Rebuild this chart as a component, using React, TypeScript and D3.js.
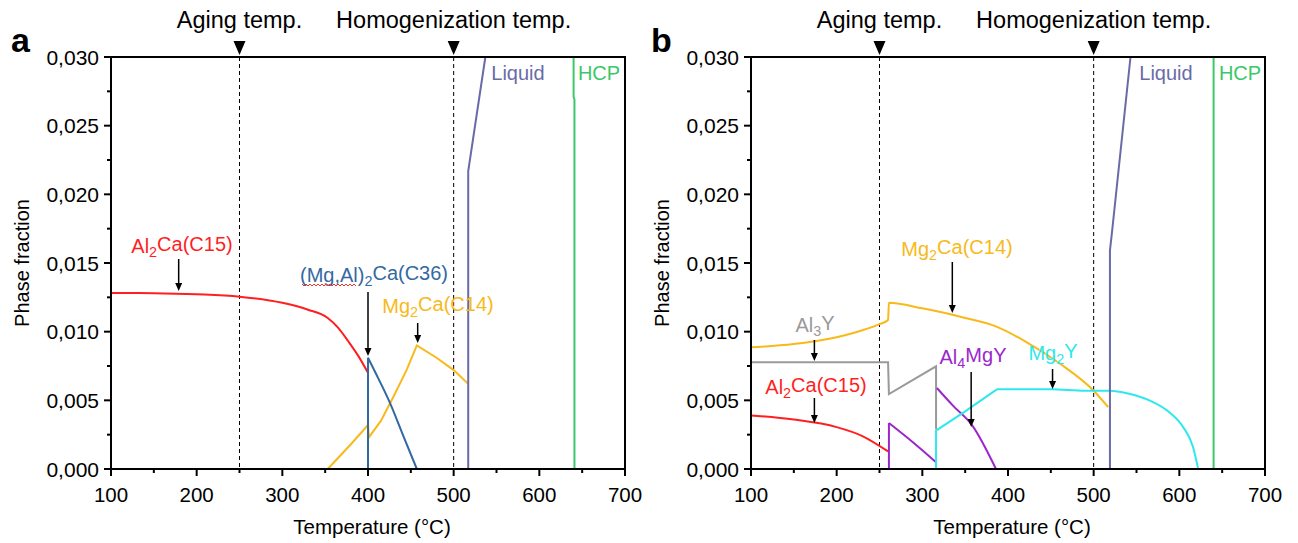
import React from "react";
import * as d3 from "d3";

type Pt = [number, number];

// x tick labels / y tick values
const X_TICKS = [100, 200, 300, 400, 500, 600, 700];
const Y_TICKS = [0, 0.005, 0.01, 0.015, 0.02, 0.025, 0.03];
const MARKS = [
  { t: 250, label: "Aging temp." },
  { t: 500, label: "Homogenization temp." },
];

// panel a
const aAl2Ca: Pt[] = [[100, 0.01282], [150, 0.0128], [200, 0.01272], [250, 0.01255], [300, 0.0121], [330, 0.0116], [353, 0.0110], [365, 0.0103], [377, 0.0093], [389, 0.0082], [400, 0.0070]];
const aC36: Pt[] = [[400, 0], [400, 0.0081], [412, 0.0066], [425, 0.0049], [440, 0.0026], [457, 0]];
const aMg2Ca: Pt[] = [[353, 0], [365, 0.0008], [380, 0.0018], [400, 0.0032], [401, 0.0023], [415, 0.0035], [430, 0.0053], [445, 0.0072], [457, 0.0090], [480, 0.0081], [500, 0.0072], [517, 0.0062]];
const aLiquid: Pt[] = [[517, 0], [517, 0.0217], [537, 0.030]];
const aHCP: Pt[] = [[640, 0.030], [640, 0.0271], [641, 0.0269], [641, 0]];

// panel b
const bMg2Ca: Pt[] = [[100, 0.00886], [150, 0.0091], [200, 0.0096], [230, 0.0101], [250, 0.01055], [260, 0.01085], [261, 0.0121], [300, 0.0117], [350, 0.0110], [385, 0.0104], [420, 0.0093], [460, 0.0077], [500, 0.0057], [517, 0.0045]];
const bAl3Y: Pt[] = [[100, 0.00777], [260, 0.00777], [261, 0.00546], [316, 0.00748], [316, 0.0029]];
const bAl2Ca: Pt[] = [[100, 0.0039], [150, 0.0036], [200, 0.00305], [230, 0.0024], [260, 0.00128]];
const bAl4MgY1: Pt[] = [[261, 0], [261, 0.00335], [290, 0.0019], [316, 0.0005]];
const bAl4MgY2: Pt[] = [[317, 0.0059], [336, 0.0046], [358, 0.0032], [386, 0]];
const bMg2Y: Pt[] = [[316, 0], [316, 0.0028], [350, 0.0042], [387, 0.0058], [450, 0.0058], [490, 0.0057], [519, 0.0057], [540, 0.0055], [565, 0.0050], [589, 0.0041], [604, 0.0031], [616, 0.0016], [622, 0]];
const bLiquid: Pt[] = [[519, 0], [519, 0.0159], [522, 0.0176], [543, 0.030]];
const bHCP: Pt[] = [[640, 0.030], [640, 0]];

const RED = "#ff1f1f";
const BLUE = "#3369a3";
const YELLOW = "#f8b91a";
const LIQ = "#6a6aa8";
const HCP = "#3cc768";
const GRAY = "#9a9a9a";
const PURPLE = "#9b27cc";
const CYAN = "#2ee8ee";

const FONT = "Liberation Sans, Arial, sans-serif";

function Sub({ a, s, b }) {
  return (
    <>
      {a}
      <tspan fontSize="0.72em" dy="0.3em">{s}</tspan>
      <tspan dy="-0.3em">{b}</tspan>
    </>
  );
}

function Panel({ left, letter, series, labels }) {
  const top = 57, bottom = 469, w = 514;
  const x = d3.scaleLinear().domain([100, 700]).range([left, left + w]);
  const y = d3.scaleLinear().domain([0, 0.03]).range([bottom, top]);
  const line = d3.line<Pt>().x(d => x(d[0])).y(d => y(d[1]));
  const smooth = d3.line<Pt>().x(d => x(d[0])).y(d => y(d[1])).curve(d3.curveMonotoneX);
  const fmt = (v: number) => d3.format(".3f")(v).replace(".", ",");
  const minorX = d3.range(150, 700, 100);
  const minorY = d3.range(0.0025, 0.03, 0.005);

  return (
    <g fontFamily={FONT}>
      <text x={left - 100} y={52} fontSize={34} fontWeight="bold">{letter}</text>
      {MARKS.map(m => (
        <g key={m.t}>
          <line x1={x(m.t)} x2={x(m.t)} y1={top} y2={bottom} stroke="#000" strokeWidth={1} strokeDasharray="4,3" />
          <path d={`M${x(m.t) - 6},${41} L${x(m.t) + 6},${41} L${x(m.t)},${55} Z`} fill="#000" />
          <text x={x(m.t)} y={28} fontSize={23.5} textAnchor="middle">{m.label}</text>
        </g>
      ))}
      {series.map((s, i) => {
        const k = s.smoothFrom;
        return (
          <g key={i}>
            {k === undefined ? (
              <path d={line(s.pts)} fill="none" stroke={s.color} strokeWidth={2} />
            ) : (
              <>
                {k > 0 && <path d={line(s.pts.slice(0, k + 1))} fill="none" stroke={s.color} strokeWidth={2} />}
                <path d={smooth(s.pts.slice(k))} fill="none" stroke={s.color} strokeWidth={2} />
              </>
            )}
          </g>
        );
      })}
      <rect x={left} y={top} width={w} height={bottom - top} fill="none" stroke="#000" strokeWidth={2} />
      {Y_TICKS.map(v => (
        <g key={v}>
          <line x1={left - 7} x2={left} y1={y(v)} y2={y(v)} stroke="#000" strokeWidth={2} />
          <text x={left - 12} y={y(v) + 7.5} fontSize={21} textAnchor="end">{fmt(v)}</text>
        </g>
      ))}
      {minorY.map(v => (
        <line key={v} x1={left - 4} x2={left} y1={y(v)} y2={y(v)} stroke="#000" strokeWidth={2} />
      ))}
      {X_TICKS.map(v => (
        <g key={v}>
          <line x1={x(v)} x2={x(v)} y1={bottom} y2={bottom + 7} stroke="#000" strokeWidth={2} />
          <text x={x(v)} y={bottom + 33} fontSize={20.5} textAnchor="middle">{v}</text>
        </g>
      ))}
      {minorX.map(v => (
        <line key={v} x1={x(v)} x2={x(v)} y1={bottom} y2={bottom + 4} stroke="#000" strokeWidth={2} />
      ))}
      <text x={left + w / 2 + 4} y={534} fontSize={20.5} textAnchor="middle">Temperature (°C)</text>
      <text transform={`translate(${left - 82},${(top + bottom) / 2}) rotate(-90)`} fontSize={20} textAnchor="middle">Phase fraction</text>
      {labels.map((l, i) => (
        <g key={i}>
          <text x={l.tx} y={l.ty} fontSize={20} textAnchor="middle" fill={l.color}>{l.text}</text>
          {l.arrow && (
            <g>
              <line x1={x(l.arrow[0])} x2={x(l.arrow[0])} y1={l.arrow[1]} y2={l.arrow[2] - 6} stroke="#000" strokeWidth={1.5} />
              <path d={`M${x(l.arrow[0]) - 3.5},${l.arrow[2] - 8} L${x(l.arrow[0]) + 3.5},${l.arrow[2] - 8} L${x(l.arrow[0])},${l.arrow[2]} Z`} fill="#000" />
            </g>
          )}
          {l.squiggle && (
            <path d={d3.range(0, 28).map(k => `${k ? "L" : "M"}${l.squiggle[0] + k * 2},${l.squiggle[1] + (k % 2) * 2}`).join(" ")} fill="none" stroke="#e33" strokeWidth={1} />
          )}
        </g>
      ))}
    </g>
  );
}

export default function App() {
  const seriesA = [
    { pts: aAl2Ca, color: RED, smoothFrom: 0 },
    { pts: aMg2Ca, color: YELLOW },
    { pts: aC36, color: BLUE, smoothFrom: 1 },
    { pts: aLiquid, color: LIQ },
    { pts: aHCP, color: HCP },
  ];
  const labelsA = [
    { text: <Sub a="Al" s="2" b="Ca(C15)" />, color: RED, tx: 182, ty: 253, arrow: [179, 259, 291] },
    { text: <Sub a="(Mg,Al)" s="2" b="Ca(C36)" />, color: BLUE, tx: 374, ty: 282, arrow: [400, 292, 356], squiggle: [302, 284] },
    { text: <Sub a="Mg" s="2" b="Ca(C14)" />, color: YELLOW, tx: 438, ty: 313, arrow: [458, 323, 343] },
    { text: "Liquid", color: LIQ, tx: 518, ty: 80 },
    { text: "HCP", color: HCP, tx: 599, ty: 80 },
  ];
  const seriesB = [
    { pts: bMg2Ca, color: YELLOW, smoothFrom: 0 },
    { pts: bAl3Y, color: GRAY },
    { pts: bAl2Ca, color: RED, smoothFrom: 0 },
    { pts: bAl4MgY1, color: PURPLE, smoothFrom: 1 },
    { pts: bAl4MgY2, color: PURPLE, smoothFrom: 0 },
    { pts: bMg2Y, color: CYAN, smoothFrom: 3 },
    { pts: bLiquid, color: LIQ },
    { pts: bHCP, color: HCP },
  ];
  const labelsB = [
    { text: <Sub a="Mg" s="2" b="Ca(C14)" />, color: YELLOW, tx: 957, ty: 256, arrow: [335, 262, 313] },
    { text: <Sub a="Al" s="3" b="Y" />, color: GRAY, tx: 815, ty: 332, arrow: [174, 340, 361] },
    { text: <Sub a="Al" s="2" b="Ca(C15)" />, color: RED, tx: 816, ty: 394, arrow: [174, 398, 423] },
    { text: <Sub a="Al" s="4" b="MgY" />, color: PURPLE, tx: 973, ty: 364, arrow: [357, 372, 427] },
    { text: <Sub a="Mg" s="2" b="Y" />, color: CYAN, tx: 1053, ty: 360, arrow: [452, 369, 389] },
    { text: "Liquid", color: LIQ, tx: 1166, ty: 80 },
    { text: "HCP", color: HCP, tx: 1240, ty: 80 },
  ];
  return (
    <svg width={1298} height={543} style={{ position: "absolute", left: 0, top: 0, background: "#fff" }}>
      <Panel left={111} letter="a" series={seriesA} labels={labelsA} />
      <Panel left={751} letter="b" series={seriesB} labels={labelsB} />
    </svg>
  );
}
